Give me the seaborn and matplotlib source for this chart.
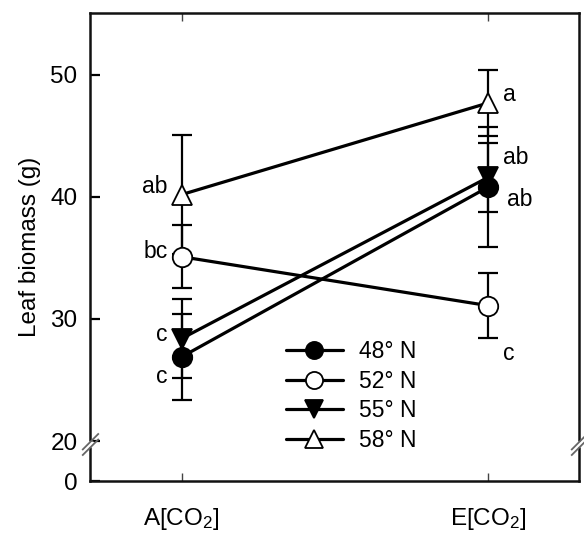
import numpy as np
import pandas as pd
import matplotlib
matplotlib.use("Agg")
import matplotlib.pyplot as plt
from matplotlib.path import Path
import seaborn as sns

# ---- data ----
treatments = ["A[CO$_2$]", "E[CO$_2$]"]
latitudes = ["48° N", "52° N", "55° N", "58° N"]
mean_48 = [26.9, 40.8]
err_48 = [3.5, 4.9]
mean_52 = [35.1, 31.1]
err_52 = [2.6, 2.65]
mean_55 = [28.4, 41.6]
err_55 = [3.2, 2.8]
mean_58 = [40.2, 47.7]
err_58 = [4.9, 2.7]
letters_48 = ["c", "ab"]
letters_52 = ["bc", "c"]
letters_55 = ["c", "ab"]
letters_58 = ["ab", "a"]
ytick_values = [20, 30, 40, 50]

means = [mean_48, mean_52, mean_55, mean_58]
errs = [err_48, err_52, err_55, err_58]
letters = [letters_48, letters_52, letters_55, letters_58]

rows = []
for lat, m, e in zip(latitudes, means, errs):
    for i, t in enumerate(treatments):
        rows.append({"treatment": t, "pos": i, "lat": lat, "value": m[i], "err": e[i]})
df = pd.DataFrame(rows)

# ---- style ----
sns.set_style("ticks")
plt.rcParams["font.family"] = ["Liberation Sans", "DejaVu Sans"]
plt.rcParams["mathtext.fontset"] = "custom"
plt.rcParams["mathtext.rm"] = "Liberation Sans"
plt.rcParams["mathtext.it"] = "Liberation Sans:italic"
for k in ["text.color", "axes.labelcolor", "xtick.color", "ytick.color", "axes.edgecolor"]:
    plt.rcParams[k] = "black"

fig = plt.figure(figsize=(5.84, 5.35), dpi=100)
ax = fig.add_axes([0.154, 0.1009, 0.837, 0.8748])

markers = {"48° N": "o", "52° N": "o", "55° N": "v", "58° N": "^"}
faces = {"48° N": "black", "52° N": "white", "55° N": "black", "58° N": "white"}

# error bars first
for lat in latitudes:
    sub = df[df["lat"] == lat]
    ax.errorbar(sub["pos"], sub["value"], yerr=sub["err"], fmt="none",
                ecolor="black", elinewidth=1.6, capsize=7, capthick=1.6, zorder=2)

for k, lat in enumerate(latitudes):
    sub = df[df["lat"] == lat]
    sns.lineplot(data=sub, x="pos", y="value", ax=ax, color="black",
                 marker=markers[lat], markersize=14,
                 markerfacecolor=faces[lat], markeredgecolor="black",
                 markeredgewidth=1.3, linewidth=2.3, zorder=3 + k,
                 label=lat, legend=False, errorbar=None)

# significance letters (x offset, y position)
offs = {
    ("48° N", 0): (-0.046, 25.25), ("48° N", 1): (0.062, 39.8),
    ("52° N", 0): (-0.046, 35.5), ("52° N", 1): (0.049, 27.2),
    ("55° N", 0): (-0.046, 28.7), ("55° N", 1): (0.049, 43.2),
    ("58° N", 0): (-0.046, 40.9), ("58° N", 1): (0.049, 48.4),
}
for lat, lets in zip(latitudes, letters):
    for i, L in enumerate(lets):
        dx, yy = offs[(lat, i)]
        ha = "right" if dx < 0 else "left"
        ax.text(i + dx, yy, L, ha=ha, va="center", fontsize=16.5)

# axes limits / broken axis representation
ybot = 16.72
ax.set_xlim(-0.30, 1.297)
ax.set_ylim(ybot, 55.08)
ax.set_xticks([0, 1])
ax.set_xticklabels(treatments, fontsize=17.5)
ax.set_yticks([ybot] + ytick_values)
ax.set_yticklabels(["0"] + [str(v) for v in ytick_values], fontsize=17.5)
ax.set_xlabel("")
ax.set_ylabel("Leaf biomass (g)", fontsize=17.5, labelpad=7)
ax.tick_params(axis="y", direction="in", length=7, width=1.6, left=True, right=False, pad=9)
ax.tick_params(axis="x", direction="in", length=6, width=1.0, top=True, bottom=True,
               color="#444444", pad=18)
for s in ax.spines.values():
    s.set_visible(True)
    s.set_linewidth(1.8)
    s.set_color("#111111")

# break marks on both spines
ybreak = 19.75
slashes = Path([(-0.375, -0.5), (0.375, 0.25), (-0.375, -0.25), (0.375, 0.5)],
               [Path.MOVETO, Path.LINETO, Path.MOVETO, Path.LINETO])
tr = ax.get_yaxis_transform()
for xa in (0, 1):
    ax.plot([xa], [ybreak], transform=tr, marker="s", markersize=4.0, color="white",
            markeredgecolor="none", clip_on=False, zorder=10)
    ax.plot([xa], [ybreak], transform=tr, marker=slashes, markersize=16, color="none",
            markeredgecolor="#666666", markeredgewidth=1.3, clip_on=False, zorder=11)

# legend
lines = ax.get_lines()
leg_handles = [l for l in lines if l.get_label() in latitudes]
leg = ax.legend(handles=leg_handles, labels=latitudes, loc="upper left",
                bbox_to_anchor=(0.358, 0.345), frameon=False, fontsize=16.5,
                handlelength=2.5, labelspacing=0.29, handletextpad=0.72, markerscale=0.88)

fig.savefig("out.png", dpi=100)
